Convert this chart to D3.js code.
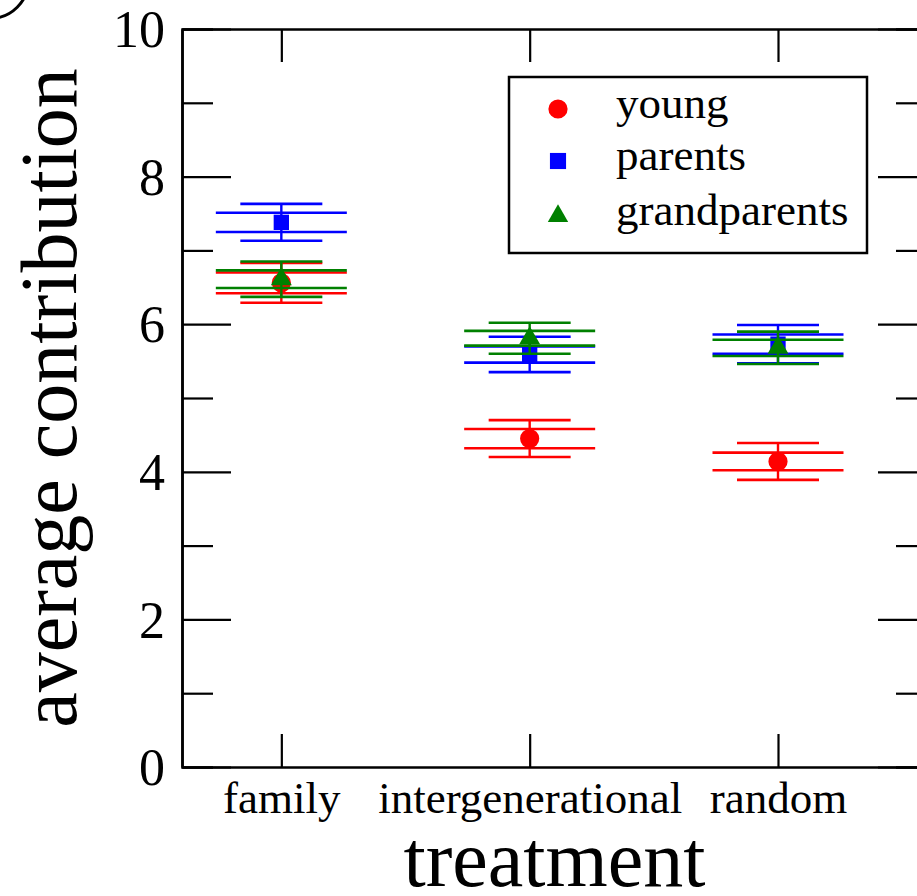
<!DOCTYPE html>
<html>
<head>
<meta charset="utf-8">
<script src="https://cdn.jsdelivr.net/npm/d3@7"></script>
<style>
  body { margin: 0; background: #fff; }
  svg { display: block; font-family: "Liberation Serif", "Times New Roman", serif; }
</style>
</head>
<body>
<svg id="chart" width="917" height="896"></svg>
<script>
// data
var treatments = ['family', 'intergenerational', 'random'];
var groups = ['young', 'parents', 'grandparents'];
var groupColors = ['#ff0000', '#0000ff', '#008000'];
var groupShapes = [d3.symbolCircle, d3.symbolSquare, d3.symbolTriangle];

var meanYoung = [6.56, 4.45, 4.14];
var meanParents = [7.38, 5.59, 5.73];
var meanGrand = [6.61, 5.81, 5.68];

// inner bars (long caps) and outer bars (short caps), half widths
var innerYoung = [0.14, 0.13, 0.12];
var innerParents = [0.13, 0.11, 0.13];
var innerGrand = [0.12, 0.10, 0.11];
var outerYoung = [0.27, 0.25, 0.25];
var outerParents = [0.25, 0.24, 0.26];
var outerGrand = [0.24, 0.21, 0.22];

var yTicks = [0, 2, 4, 6, 8, 10];
var yMinor = [1, 3, 5, 7, 9];

var means = [meanYoung, meanParents, meanGrand];
var inners = [innerYoung, innerParents, innerGrand];
var outers = [outerYoung, outerParents, outerGrand];

var svg = d3.select('#chart');
var pLeft = 182, pRight = 927, pTop = 29, pBottom = 767;

var x = d3.scaleLinear().domain([0.6, 3.6]).range([pLeft, pRight]);
var y = d3.scaleLinear().domain([0, 10]).range([pBottom, pTop]);

// panel label fragment in the corner
svg.append('circle')
    .attr('cx', -10).attr('cy', -20).attr('r', 38.5)
    .attr('fill', 'none').attr('stroke', '#000').attr('stroke-width', 3);

// minor y ticks (both sides)
svg.append('g').attr('transform', 'translate(' + pLeft + ',0)')
    .call(d3.axisLeft(y).tickValues(yMinor).tickSize(-31).tickFormat(''));
svg.append('g').attr('transform', 'translate(' + pRight + ',0)')
    .call(d3.axisRight(y).tickValues(yMinor).tickSize(-31).tickFormat(''));

var yAxisL = svg.append('g').attr('transform', 'translate(' + pLeft + ',0)')
    .call(d3.axisLeft(y).tickValues(yTicks).tickSize(-49).tickSizeOuter(0).tickPadding(17));
svg.append('g').attr('transform', 'translate(' + pRight + ',0)')
    .call(d3.axisRight(y).tickValues(yTicks).tickSize(-49).tickSizeOuter(0).tickFormat(''));

var xAxisB = svg.append('g').attr('transform', 'translate(0,' + pBottom + ')')
    .call(d3.axisBottom(x).tickValues([1, 2, 3]).tickSize(-33).tickSizeOuter(0)
        .tickPadding(14).tickFormat(function(d) { return treatments[d - 1]; }));
svg.append('g').attr('transform', 'translate(0,' + pTop + ')')
    .call(d3.axisTop(x).tickValues([1, 2, 3]).tickSize(-33).tickSizeOuter(0).tickFormat(''));

svg.selectAll('.domain').attr('stroke', '#000').attr('stroke-width', 2.5);
svg.selectAll('.tick line').attr('stroke', '#000').attr('stroke-width', 2.2);
yAxisL.selectAll('text').attr('font-size', 52).attr('fill', '#000')
    .attr('font-family', '"Liberation Serif", "Times New Roman", serif')
    .attr('dy', '0.34em');
xAxisB.selectAll('text').attr('font-size', 45).attr('fill', '#000')
    .attr('font-family', '"Liberation Serif", "Times New Roman", serif')
    .attr('dy', '0.72em');

// axis titles
svg.append('text')
    .attr('x', (pLeft + pRight) / 2).attr('y', 886)
    .attr('text-anchor', 'middle').attr('font-size', 80)
    .text('treatment');
svg.append('text')
    .attr('transform', 'translate(76,' + ((pTop + pBottom) / 2) + ') rotate(-90)')
    .attr('text-anchor', 'middle').attr('font-size', 80)
    .text('average contribution');

// error bars and markers
var innerCap = 65.5, outerCap = 41;
var markSize = [290, 235, 190];
groups.forEach(function(g, gi) {
    var grp = svg.append('g').attr('stroke', groupColors[gi]).attr('fill', groupColors[gi]);
    treatments.forEach(function(t, ti) {
        var cx = x(ti + 1);
        var m = means[gi][ti], a = inners[gi][ti], b = outers[gi][ti];
        grp.append('line')
            .attr('x1', cx).attr('x2', cx)
            .attr('y1', y(m - b)).attr('y2', y(m + b))
            .attr('stroke-width', 2.4);
        [m - b, m + b].forEach(function(v) {
            grp.append('line')
                .attr('x1', cx - outerCap).attr('x2', cx + outerCap)
                .attr('y1', y(v)).attr('y2', y(v))
                .attr('stroke-width', 2.6);
        });
        [m - a, m + a].forEach(function(v) {
            grp.append('line')
                .attr('x1', cx - innerCap).attr('x2', cx + innerCap)
                .attr('y1', y(v)).attr('y2', y(v))
                .attr('stroke-width', 2.6);
        });
        grp.append('path')
            .attr('transform', 'translate(' + cx + ',' + y(m) + ')')
            .attr('d', d3.symbol().type(groupShapes[gi]).size(markSize[gi]))
            .attr('stroke', 'none');
    });
});

// legend
var legend = svg.append('g');
legend.append('rect')
    .attr('x', 509).attr('y', 77).attr('width', 358).attr('height', 176)
    .attr('fill', '#fff').attr('stroke', '#000').attr('stroke-width', 2.5);
var legendRows = [109, 161, 216];
var legendSize = [290, 260, 180];
groups.forEach(function(g, gi) {
    legend.append('path')
        .attr('transform', 'translate(558,' + legendRows[gi] + ')')
        .attr('d', d3.symbol().type(groupShapes[gi]).size(legendSize[gi]))
        .attr('fill', groupColors[gi]);
    legend.append('text')
        .attr('x', 616).attr('y', legendRows[gi] + 9)
        .attr('font-size', 45)
        .text(g);
});
</script>
</body>
</html>
